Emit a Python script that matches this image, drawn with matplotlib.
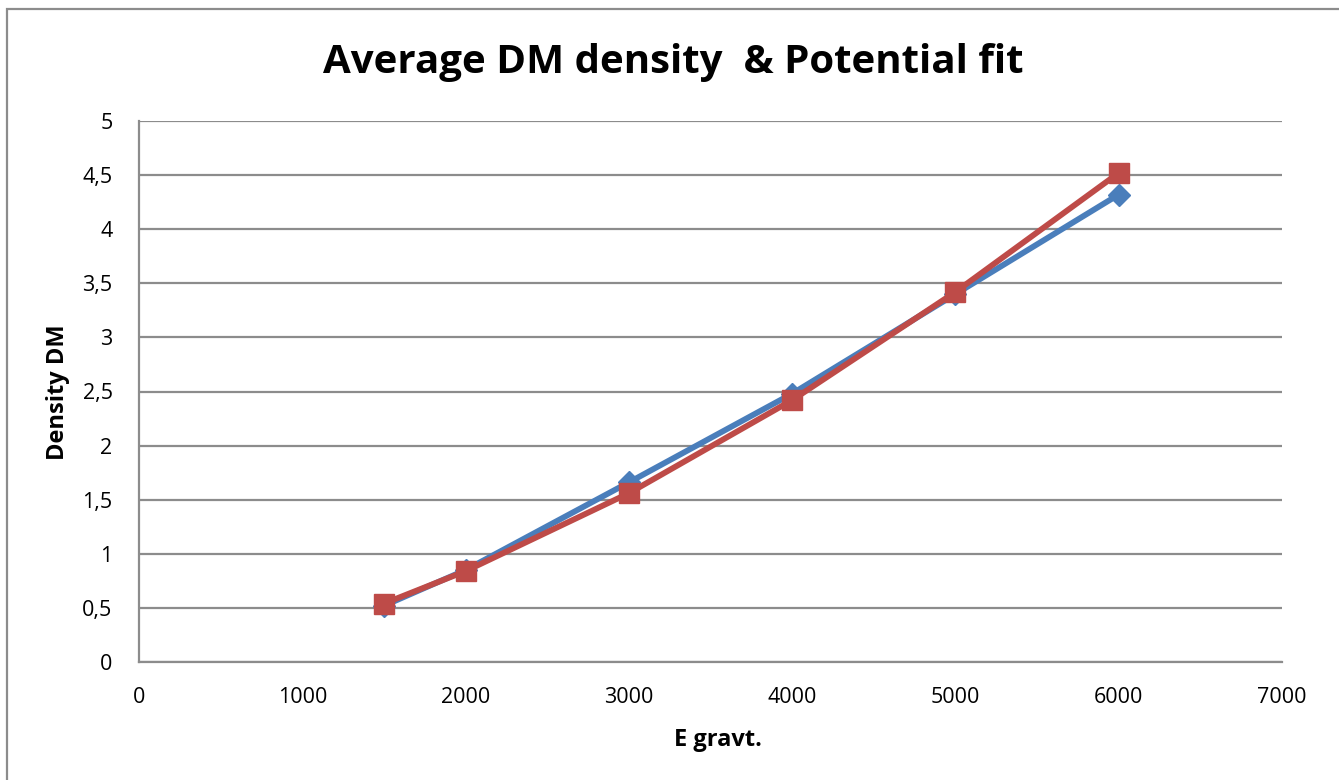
import matplotlib.pyplot as plt
from matplotlib.patches import Rectangle
from matplotlib.ticker import FuncFormatter

# data
e_grav = [1500, 2000, 3000, 4000, 5000, 6000]
density_avg = [0.52, 0.85, 1.66, 2.48, 3.40, 4.32]
density_fit = [0.54, 0.84, 1.56, 2.42, 3.42, 4.52]

x_ticks = [0, 1000, 2000, 3000, 4000, 5000, 6000, 7000]
y_ticks = [0, 0.5, 1, 1.5, 2, 2.5, 3, 3.5, 4, 4.5, 5]

plt.rcParams["font.family"] = ["Open Sans", "DejaVu Sans"]

fig = plt.figure(figsize=(13.39, 7.8), dpi=100)
ax = fig.add_axes([139 / 1339, 1 - 662 / 780, (1282 - 139) / 1339, (662 - 121) / 780])

# outer chart border
fig.patches.append(Rectangle((7 / 1339, -0.1), 1.2, 1 - 9 / 780 + 0.1,
                             transform=fig.transFigure, fill=False,
                             edgecolor="#8c8c8c", linewidth=1.6))

ax.plot(e_grav, density_avg, color="#4a7ebb", linewidth=4.2, marker="D",
        markersize=11, markerfacecolor="#4a7ebb", markeredgecolor="#4a7ebb",
        solid_joinstyle="round", zorder=3)
ax.plot(e_grav, density_fit, color="#be4b48", linewidth=4.2, marker="s",
        markersize=15, markerfacecolor="#be4b48", markeredgecolor="#be4b48",
        solid_joinstyle="round", zorder=4)

ax.set_xlim(0, 7000)
ax.set_ylim(0, 5)
ax.set_xticks(x_ticks)
ax.set_yticks(y_ticks)
ax.yaxis.set_major_formatter(FuncFormatter(lambda v, _: f"{v:g}".replace(".", ",")))
ax.tick_params(length=0, labelsize=15.5)
ax.tick_params(axis="x", pad=18)
ax.tick_params(axis="y", pad=19)
ax.grid(axis="y", color="#8c8c8c", linewidth=1.6)
ax.set_axisbelow(True)
for side in ("top", "right"):
    ax.spines[side].set_visible(False)
for side in ("left", "bottom"):
    ax.spines[side].set_color("#8c8c8c")
    ax.spines[side].set_linewidth(1.6)

fig.text(673 / 1339, 1 - 62 / 780, "Average DM density  & Potential fit",
         ha="center", va="center", fontsize=29, fontweight="bold")
fig.text(718 / 1339, 1 - 740 / 780, "E gravt.", ha="center", va="center",
         fontsize=17, fontweight="bold")
fig.text(58 / 1339, 1 - 392 / 780, "Density DM", ha="center", va="center",
         rotation=90, fontsize=17, fontweight="bold")

fig.savefig("out.png", dpi=100)
